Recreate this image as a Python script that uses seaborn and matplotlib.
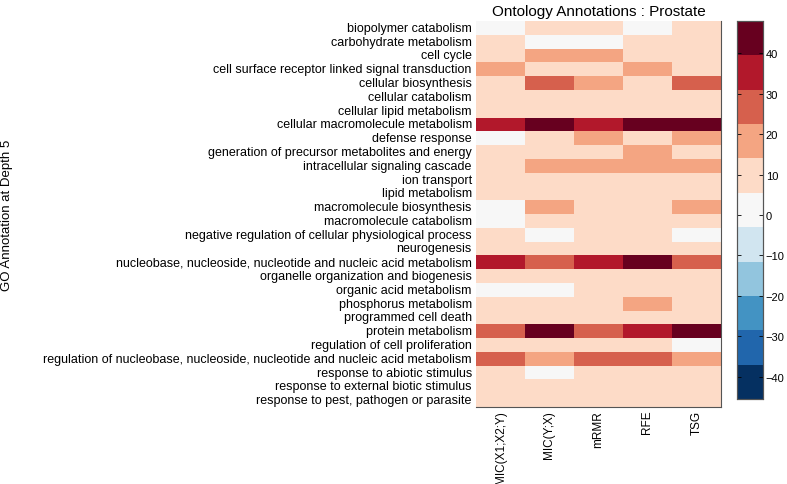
import numpy as np
import pandas as pd

import matplotlib
matplotlib.use('Agg')
import matplotlib.pyplot as plt
from matplotlib.colors import ListedColormap
import seaborn as sns

# GO annotation terms (rows) and feature selection methods (columns)
terms = [
    "biopolymer catabolism",
    "carbohydrate metabolism",
    "cell cycle",
    "cell surface receptor linked signal transduction",
    "cellular biosynthesis",
    "cellular catabolism",
    "cellular lipid metabolism",
    "cellular macromolecule metabolism",
    "defense response",
    "generation of precursor metabolites and energy",
    "intracellular signaling cascade",
    "ion transport",
    "lipid metabolism",
    "macromolecule biosynthesis",
    "macromolecule catabolism",
    "negative regulation of cellular physiological process",
    "neurogenesis",
    "nucleobase, nucleoside, nucleotide and nucleic acid metabolism",
    "organelle organization and biogenesis",
    "organic acid metabolism",
    "phosphorus metabolism",
    "programmed cell death",
    "protein metabolism",
    "regulation of cell proliferation",
    "regulation of nucleobase, nucleoside, nucleotide and nucleic acid metabolism",
    "response to abiotic stimulus",
    "response to external biotic stimulus",
    "response to pest, pathogen or parasite",
]
methods = ["MIC(X1;X2;Y)", "MIC(Y;X)", "mRMR", "RFE", "TSG"]

mic_x1x2y = [0, 10, 10, 18, 10, 10, 10, 35, 0, 10, 10, 10, 10, 0,
             0, 10, 10, 35, 10, 0, 10, 10, 27, 10, 27, 10, 10, 10]
mic_yx = [10, 0, 18, 10, 27, 10, 10, 44, 10, 10, 18, 10, 10, 18,
          10, 0, 10, 27, 10, 0, 10, 10, 44, 10, 18, 0, 10, 10]
mrmr = [10, 0, 18, 10, 18, 10, 10, 35, 18, 10, 18, 10, 10, 10,
        10, 10, 10, 35, 10, 10, 10, 10, 27, 10, 27, 10, 10, 10]
rfe = [0, 10, 10, 18, 10, 10, 10, 44, 10, 18, 18, 10, 10, 10,
       10, 10, 10, 44, 10, 10, 18, 10, 35, 10, 27, 10, 10, 10]
tsg = [10, 10, 10, 10, 27, 10, 10, 44, 18, 10, 18, 10, 10, 18,
       10, 0, 10, 27, 10, 10, 10, 10, 44, 0, 18, 10, 10, 10]

cbar_ticks = [-40, -30, -20, -10, 0, 10, 20, 30, 40]

df = pd.DataFrame({
    methods[0]: mic_x1x2y,
    methods[1]: mic_yx,
    methods[2]: mrmr,
    methods[3]: rfe,
    methods[4]: tsg,
}, index=terms)

# 11-class RdBu (ColorBrewer), as in the MATLAB figure
colors = ["#053061", "#2166ac", "#4393c3", "#92c5de", "#d1e5f0", "#f7f7f7",
          "#fddbc7", "#f4a582", "#d6604d", "#b2182b", "#67001f"]
cmap = ListedColormap(colors)

plt.rcParams['font.family'] = ['Liberation Sans', 'DejaVu Sans']

fig = plt.figure(figsize=(7.87, 4.85), dpi=100)
ax = fig.add_axes([476 / 787, 1 - 408 / 485, 245 / 787, 386 / 485])
cax = fig.add_axes([737 / 787, 1 - 400 / 485, 26 / 787, 378 / 485])

sns.heatmap(df, ax=ax, cmap=cmap, vmin=-45.5, vmax=48, cbar_ax=cax,
            cbar_kws={"ticks": cbar_ticks})

ax.set_yticks(np.arange(len(terms)) + 0.5)
ax.set_yticklabels(terms, fontsize=9, rotation=0)
ax.set_xticks(np.arange(len(methods)) + 0.5)
ax.set_xticklabels(methods, fontsize=8.5, rotation=90)
ax.tick_params(axis='y', length=0, pad=3)
ax.tick_params(axis='x', length=0, pad=2)
ax.set_ylabel("")
ax.set_xlabel("")
ax.set_title("Ontology Annotations : Prostate", fontsize=11, pad=4)
fig.text(7 / 787, 1 - 215 / 485, "GO Annotation at Depth 5", rotation=90,
         ha='center', va='center', fontsize=9.5)

for side in ["right", "bottom"]:
    ax.spines[side].set_visible(True)
    ax.spines[side].set_color("#555555")
    ax.spines[side].set_linewidth(0.8)

cax.tick_params(labelsize=8, length=3, width=0.6, direction='in',
                left=True, right=True, pad=2)
for s in cax.spines.values():
    s.set_visible(True)
    s.set_color("#555555")
    s.set_linewidth(0.8)

plt.savefig("out.png", dpi=100)
plt.close()
